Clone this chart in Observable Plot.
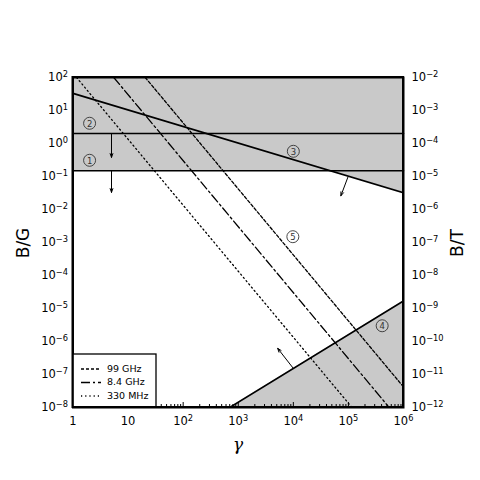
<!DOCTYPE html>
<html><head><meta charset="utf-8">
<script src="https://cdn.jsdelivr.net/npm/d3@7"></script>
<script src="https://cdn.jsdelivr.net/npm/@observablehq/plot@0.6"></script>
<style>
body{margin:0;background:#fff}
#chart{position:relative;width:480px;height:480px}
</style>
</head><body><div id="chart"></div>
<script>
// ---- axes / ticks ----
const gammaTicks = [1, 10, 1e2, 1e3, 1e4, 1e5, 1e6];
const gammaTickLabels = ["1", "10", "10^2", "10^3", "10^4", "10^5", "10^6"];
const bTicks = [1e-8, 1e-7, 1e-6, 1e-5, 1e-4, 1e-3, 1e-2, 1e-1, 1, 10, 100];
const bGaussLabels = ["10^-8","10^-7","10^-6","10^-5","10^-4","10^-3","10^-2","10^-1","10^0","10^1","10^2"];
const bTeslaLabels = ["10^-12","10^-11","10^-10","10^-9","10^-8","10^-7","10^-6","10^-5","10^-4","10^-3","10^-2"];

// ---- constraint lines (gamma, B in gauss) ----
const limit2 = [{g: 1, b: 2}, {g: 1e6, b: 2}];          // line (2)
const limit1 = [{g: 1, b: 0.15}, {g: 1e6, b: 0.15}];    // line (1)
const limit3 = [{g: 1, b: 33}, {g: 1e6, b: 0.032}];     // line (3)
const limit4 = [{g: 700, b: 1e-8}, {g: 1e6, b: 1.7e-5}]; // line (4)
const topRegion = [{g: 1, b: 0.15}, {g: 4.8e4, b: 0.15}, {g: 1e6, b: 0.032}];

// ---- frequency lines ----
const freqNames = ["99 GHz", "8.4 GHz", "330 MHz"];
const freqDash = ["3,2", "9,3,2,3", "1.2,3"];
const freqLines = [
  [{g: 20.5, b: 100}, {g: 1e6, b: 4.2e-8}],
  [{g: 5.5, b: 100}, {g: 5.5e5, b: 1e-8}],
  [{g: 1.16, b: 100}, {g: 1.16e5, b: 1e-8}]
];

// ---- annotations ----
const arrows = [
  {g1: 5, b1: 2, g2: 5, b2: 0.38},
  {g1: 5, b1: 0.15, g2: 5, b2: 0.033},
  {g1: 9.8e4, b1: 0.096, g2: 7.3e4, b2: 0.026},
  {g1: 9.8e3, b1: 1.6e-7, g2: 5.2e3, b2: 6.2e-7}
];
const circleLabels = [
  {g: 2.0, b: 0.31, t: "1"},
  {g: 2.0, b: 4.1, t: "2"},
  {g: 1e4, b: 0.58, t: "3"},
  {g: 4.1e5, b: 3e-6, t: "4"},
  {g: 9.8e3, b: 1.5e-3, t: "5"}
];

const minorTicks = [];
for (let e = 0; e < 6; e++) for (let m = 2; m <= 9; m++) minorTicks.push(m * Math.pow(10, e));

const FONT = "DejaVu Sans";
const gray = "#c9c9c9";
const dec = d => Math.round(Math.log10(d));

const plot = Plot.plot({
  width: 480, height: 480,
  marginLeft: 72.5, marginRight: 77, marginTop: 77, marginBottom: 73,
  style: {fontFamily: FONT, fontSize: "11px", background: "white"},
  x: {type: "log", domain: [1, 1e6]},
  y: {type: "log", domain: [1e-8, 100]},
  marks: [
    Plot.areaY(topRegion, {x: "g", y1: "b", y2: 100, fill: gray}),
    Plot.areaY(limit4, {x: "g", y1: 1e-8, y2: "b", fill: gray}),
    Plot.axisX(minorTicks, {tickSize: -3, tickFormat: () => "", stroke: "black"}),
    Plot.axisX(gammaTicks, {tickSize: -5, tickPadding: 14, tickFormat: d => gammaTickLabels[dec(d)], label: null, fontSize: 11.5}),
    Plot.axisY(bTicks, {anchor: "left", tickSize: 0, tickPadding: 5, tickFormat: d => bGaussLabels[dec(d) + 8], label: null, fontSize: 11.5}),
    Plot.axisY(bTicks, {anchor: "right", tickSize: 0, tickPadding: 8, tickFormat: d => bTeslaLabels[dec(d) + 8], label: null, fontSize: 11.5}),
    ...freqLines.map((pts, i) => Plot.line(pts, {x: "g", y: "b", stroke: "black", strokeWidth: 1.3, strokeDasharray: freqDash[i], clip: true})),
    Plot.line(limit2, {x: "g", y: "b", stroke: "black", strokeWidth: 1.6}),
    Plot.line(limit1, {x: "g", y: "b", stroke: "black", strokeWidth: 1.6}),
    Plot.line(limit3, {x: "g", y: "b", stroke: "black", strokeWidth: 1.6, clip: true}),
    Plot.line(limit4, {x: "g", y: "b", stroke: "black", strokeWidth: 1.6, clip: true}),
    Plot.arrow(arrows, {x1: "g1", y1: "b1", x2: "g2", y2: "b2", stroke: "black", strokeWidth: 1, headLength: 6, headAngle: 40}),
    Plot.dot(circleLabels, {x: "g", y: "b", r: 6, stroke: "#333", strokeWidth: 0.9, fill: "none"}),
    Plot.text(circleLabels, {x: "g", y: "b", text: "t", fontSize: 8.5, fill: "#333", dy: 0.5}),
    Plot.frame({stroke: "black", strokeWidth: 2})
  ]
});

const chart = document.getElementById("chart");
chart.appendChild(plot);
const svg = d3.select(plot);

// turn "10^n" tick labels into base + raised exponent
svg.selectAll("text").each(function () {
  const s = this.textContent;
  const m = /^10\^(-?\d+)$/.exec(s);
  if (!m) return;
  const t = d3.select(this);
  t.text(null);
  t.append("tspan").text("10");
  t.append("tspan").attr("dy", "-0.5em").attr("font-size", "0.72em").text(m[1].replace("-", "−"));
});

// axis titles
svg.append("text").attr("transform", "translate(24,243) rotate(-90)")
  .attr("text-anchor", "middle").attr("dominant-baseline", "middle")
  .attr("font-family", FONT).attr("font-size", 17).text("B/G");
svg.append("text").attr("transform", "translate(458,243) rotate(-90)")
  .attr("text-anchor", "middle").attr("dominant-baseline", "middle")
  .attr("font-family", FONT).attr("font-size", 17).text("B/T");
svg.append("text").attr("x", 238).attr("y", 445)
  .attr("text-anchor", "middle").attr("dominant-baseline", "middle")
  .attr("font-family", "DejaVu Serif").attr("font-style", "italic").attr("font-size", 17).text("γ");

// legend
const lg = svg.append("g");
lg.append("rect").attr("x", 73).attr("y", 354).attr("width", 83).attr("height", 53)
  .attr("fill", "white").attr("stroke", "black").attr("stroke-width", 1.3);
freqNames.forEach((name, i) => {
  const y = 369 + i * 13.5;
  lg.append("line").attr("x1", 81).attr("x2", 101).attr("y1", y).attr("y2", y)
    .attr("stroke", "black").attr("stroke-width", 1.3).attr("stroke-dasharray", freqDash[i]);
  lg.append("text").attr("x", 107).attr("y", y).attr("dominant-baseline", "middle")
    .attr("text-anchor", "start")
    .attr("font-family", FONT).attr("font-size", 9.5).text(name);
});
// re-draw frame on top of legend
svg.append("rect").attr("x", 72.5).attr("y", 77).attr("width", 480 - 72.5 - 77).attr("height", 480 - 77 - 73)
  .attr("fill", "none").attr("stroke", "black").attr("stroke-width", 2);
</script></body></html>
